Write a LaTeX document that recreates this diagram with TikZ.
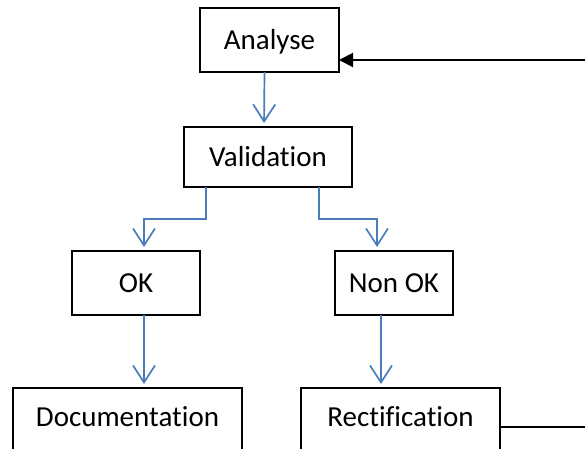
\documentclass[tikz,border=0pt]{standalone}
\usepackage{fontspec}
\setmainfont{Carlito}[Ligatures={NoCommon}]
\usetikzlibrary{arrows.meta,calc}
\definecolor{flowblue}{HTML}{4A7EBB}
\begin{document}
\begin{tikzpicture}[x=1pt,y=-1pt,
  box/.style={draw=black,line width=1.8pt,fill=white,inner sep=0pt,outer sep=0pt,
    text height=19pt,text depth=0.5pt,
    font=\fontsize{29}{34}\selectfont},
  lowbox/.style={box,text depth=12pt,minimum height=70pt},
  flow/.style={draw=flowblue,line width=1.7pt,shorten >=4pt,
    -{Straight Barb[length=17pt,width=22pt,line width=1.7pt]}},
  back/.style={draw=black,line width=2pt,-{Triangle[length=14pt,width=14pt]}}]
\useasboundingbox (0,0) rectangle (585,448);
\clip (0,0) rectangle (585,448);
\fill[white] (0,0) rectangle (585,448);

% process boxes
\node[box,minimum width=139pt,minimum height=64pt] (an)   at (269.5,40)  {Analyse};
\node[box,minimum width=168pt,minimum height=60pt] (val)  at (268,157)   {Validation};
\node[box,minimum width=128pt,minimum height=64pt] (ok)   at (136,283)   {OK};
\node[box,minimum width=118pt,minimum height=64pt] (nok)  at (394,283)   {Non OK};
\node[lowbox,minimum width=229pt] (doc)  at (127.5,423) {Documentation};
\node[lowbox,minimum width=199pt] (rect) at (400.5,423) {Rectification};

% main flow
\draw[flow] ([xshift=-5pt]an.south) -- ([xshift=-4pt]val.north);
\draw[flow] ([xshift=-62pt]val.south) -- ++(0,32) -| ([xshift=8pt]ok.north);
\draw[flow] ([xshift=51pt]val.south) -- ++(0,32) -| ([xshift=-17pt]nok.north);
\draw[flow] ([xshift=8pt]ok.south) -- ([xshift=16.5pt]doc.north);
\draw[flow] ([xshift=-13pt]nok.south) -- ([xshift=-19.5pt]rect.north);

% feedback loop from rectification back to analysis
\coordinate (fb) at (615,60);
\draw[back] ([yshift=-4pt]rect.east) -| (fb) -- (fb -| an.east);
\end{tikzpicture}
\end{document}
